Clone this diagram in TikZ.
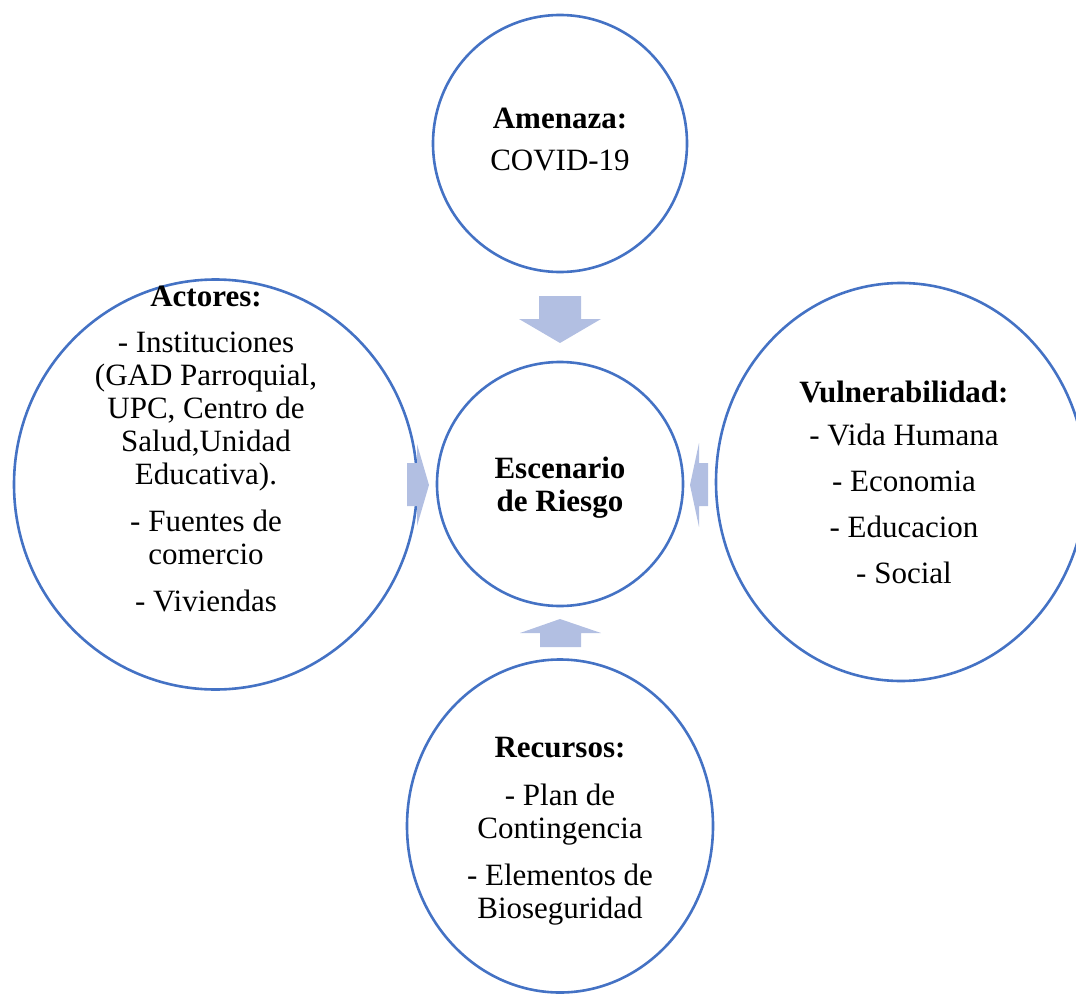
\documentclass[tikz,border=0pt]{standalone}
\usepackage{fontspec}
\setmainfont{Liberation Serif}
\usetikzlibrary{shapes.geometric}
\definecolor{ringblue}{RGB}{68,114,196}
\definecolor{arrowfill}{RGB}{178,191,226}
\tikzset{
  ring/.style={ellipse, draw=ringblue, line width=2.6pt, inner sep=0pt, fill=none},
  ln/.style={anchor=base, inner sep=0pt, font=\fontsize{31}{33}\selectfont},
  hd/.style={ln, font=\fontsize{31}{33}\selectfont\bfseries},
  blockarrow/.style={fill=arrowfill, draw=none}
}
\begin{document}
\begin{tikzpicture}[x=1pt,y=-1pt]
\useasboundingbox (0,0) rectangle (1076,995);
% circles
\node[ring, minimum width=254pt, minimum height=257pt] (top) at (560,143.5) {};
\node[ring, minimum width=246pt, minimum height=244pt] (mid) at (560,484) {};
\node[ring, minimum width=403pt, minimum height=410pt] (left) at (215.5,484.5) {};
\node[ring, minimum width=370pt, minimum height=398pt] (right) at (901,482) {};
\node[ring, minimum width=306pt, minimum height=333pt] (bot) at (560,826) {};
% block arrows
\fill[blockarrow] (539,296) -- (581,296) -- (581,319) -- (601,319) -- (560,343) -- (519,319) -- (539,319) -- cycle;
\fill[blockarrow] (540,647) -- (581,647) -- (581,633) -- (601,633) -- (560,619) -- (520,633) -- (540,633) -- cycle;
\fill[blockarrow] (407,463) -- (417,463) -- (417,444) -- (429,485) -- (417,526) -- (417,506) -- (407,506) -- cycle;
\fill[blockarrow] (708,463) -- (699,463) -- (699,443) -- (690,485) -- (699,527) -- (699,506) -- (708,506) -- cycle;
% top text
\node[hd] (ta) at (560,129) {Amenaza:};
\node[ln] (tb) at (560,171) {COVID-19};
% center text
\node[hd] (ca) at (560,478) {Escenario};
\node[hd] (cb) at (560,511) {de Riesgo};
% left text
\node[hd] (la) at (206,306) {Actores:};
\node[ln] (lb) at (206,352) {- Instituciones};
\node[ln] (lc) at (206,385) {(GAD Parroquial,};
\node[ln] (ld) at (206,418) {UPC, Centro de};
\node[ln] (le) at (206,451) {Salud,Unidad};
\node[ln] (lf) at (206,484) {Educativa).};
\node[ln] (lg) at (206,531) {- Fuentes de};
\node[ln] (lh) at (206,564) {comercio};
\node[ln] (li) at (206,611) {- Viviendas};
% right text
\node[hd] (ra) at (904,402) {Vulnerabilidad:};
\node[ln] (rb) at (904,445) {- Vida Humana};
\node[ln] (rc) at (904,491) {- Economia};
\node[ln] (rd) at (904,537) {- Educacion};
\node[ln] (re) at (904,583) {- Social};
% bottom text
\node[hd] (ba) at (560,757) {Recursos:};
\node[ln] (bb) at (560,805) {- Plan de};
\node[ln] (bc) at (560,838) {Contingencia};
\node[ln] (bd) at (560,885) {- Elementos de};
\node[ln] (be) at (560,918) {Bioseguridad};
\end{tikzpicture}
\end{document}
